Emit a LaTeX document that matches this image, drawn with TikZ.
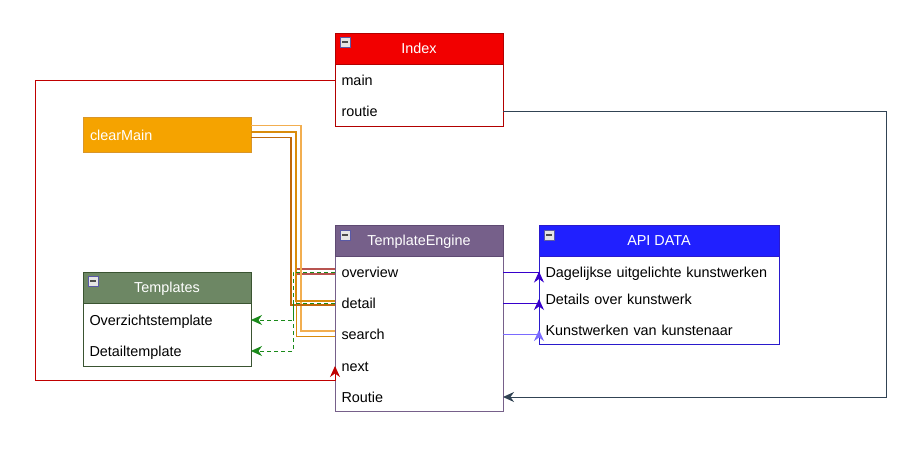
\documentclass[tikz,border=0pt]{standalone}
\usepackage{fontspec}
\setmainfont{Liberation Sans}
\usepackage{xcolor}
\usepackage{tikz}
\usetikzlibrary{positioning,arrows.meta}

\definecolor{indexRed}{HTML}{F20000}
\definecolor{indexLine}{HTML}{B20000}
\definecolor{engineFill}{HTML}{76608A}
\definecolor{engineLine}{HTML}{5E4A72}
\definecolor{apiFill}{HTML}{2020FF}
\definecolor{apiLine}{HTML}{2A1ACC}
\definecolor{templateFill}{HTML}{6D8764}
\definecolor{templateLine}{HTML}{3A5431}
\definecolor{clearFill}{HTML}{F5A300}
\definecolor{clearLine}{HTML}{D9962A}
\definecolor{mainRed}{HTML}{C00000}
\definecolor{routeSlate}{HTML}{314354}
\definecolor{apiBlue}{HTML}{3700CC}
\definecolor{apiLight}{HTML}{7A6AFF}
\definecolor{templateGreen}{HTML}{1A8A1A}
\definecolor{overviewRed}{HTML}{B85450}
\definecolor{paleOrange}{HTML}{F2AE50}
\definecolor{midOrange}{HTML}{D98B0B}
\definecolor{darkOrange}{HTML}{C0680A}

\tikzset{
	% The coloured header of a list box
	list_head/.style={
		rectangle,anchor=north west,minimum width=168pt,minimum height=31pt,
		inner sep=0pt,outer sep=0pt,text=white,text height=10.5pt,text depth=0pt,
		font=\fontsize{14.4}{17}\selectfont
	},
	index_head/.style={list_head,draw=indexLine,fill=indexRed},
	engine_head/.style={list_head,draw=engineLine,fill=engineFill},
	api_head/.style={list_head,draw=apiLine,fill=apiFill,minimum width=240pt},
	template_head/.style={list_head,draw=templateLine,fill=templateFill},
	% The white part below a header
	list_body/.style={
		rectangle,fill=white,minimum width=168pt,inner sep=0pt,outer sep=0pt
	},
	% The entries of a list box
	entry/.style={
		anchor=west,text width=155pt,align=left,inner xsep=6.5pt,inner ysep=0pt,
		outer sep=0pt,text height=13pt,text depth=3pt,
		font=\fontsize{14.4}{17}\selectfont
	},
	api_entry/.style={entry,text width=227pt},
	% The little collapse button in a header
	fold/.style={
		rectangle,draw=gray!70!blue,fill=gray!20,minimum size=10pt,inner sep=0pt,
		path picture={\draw[line width=1.6pt,black!70]
			([xshift=2.2pt]path picture bounding box.west) --
			([xshift=-2.2pt]path picture bounding box.east);}
	},
	% The single orange block
	clear_box/.style={
		rectangle,anchor=north west,draw=clearLine,fill=clearFill,text=white,
		minimum width=168pt,minimum height=35.5pt,text width=154pt,align=left,
		inner xsep=7pt,inner ysep=0pt,outer sep=0pt,text height=10.5pt,text depth=0pt,
		font=\fontsize{14.4}{17}\selectfont
	},
	% The links
	tip/.style={-{Stealth[length=11pt,width=10pt,inset=3.5pt]}},
	main_link/.style={draw=mainRed,line width=1pt,tip},
	route_link/.style={draw=routeSlate,line width=1pt,tip},
	api_link/.style={draw=apiBlue,line width=1pt,tip},
	api_light/.style={draw=apiLight,line width=1pt,tip},
	template_link/.style={draw=templateGreen,line width=1pt,dash pattern=on 4pt off 3pt,tip},
	overview_link/.style={draw=overviewRed,line width=1.2pt,double=white,double distance=3.8pt},
	pale_link/.style={draw=paleOrange,line width=1.2pt},
	orange_link/.style={draw=midOrange,line width=1.5pt},
	dark_link/.style={draw=darkOrange,line width=1.5pt},
}

\begin{document}
\begin{tikzpicture}[x=1pt,y=-1pt]
		\useasboundingbox (0,0) rectangle (916,452);

		% Index
		\node [index_head] (Index) at (335,33) {Index};
		\node [list_body,draw=indexLine,minimum height=62pt,below=0pt of Index] (Index body) {};
		\node [index_head] at (335,33) {Index};
		\node [fold] (Index fold) at ([xshift=10pt,yshift=-9pt]Index.north west) {};
		\node [entry] (Index main) at (335,80.5) {main};
		\node [entry] (Index routie) at (335,111) {routie};

		% clearMain
		\node [clear_box] (Clear main) at (83,117) {clearMain};

		% TemplateEngine
		\node [engine_head] (Engine) at (335,225) {TemplateEngine};
		\node [list_body,draw=engineFill,minimum height=155.5pt,below=0pt of Engine] (Engine body) {};
		\node [engine_head] at (335,225) {TemplateEngine};
		\node [fold] (Engine fold) at ([xshift=10pt,yshift=-10pt]Engine.north west) {};
		\node [entry] (Engine overview) at (335,272) {overview};
		\node [entry] (Engine detail) at (335,303) {detail};
		\node [entry] (Engine search) at (335,334) {search};
		\node [entry] (Engine next) at (335,366) {next};
		\node [entry] (Engine Routie) at (335,397) {Routie};

		% API DATA
		\node [api_head] (API) at (539,225) {API DATA};
		\node [list_body,draw=apiLine,minimum width=240pt,minimum height=88pt,below=0pt of API] (API body) {};
		\node [api_head] at (539,225) {API DATA};
		\node [fold] (API fold) at ([xshift=10pt,yshift=-10pt]API.north west) {};
		\node [api_entry] (API daily) at (539,272) {Dagelijkse uitgelichte kunstwerken};
		\node [api_entry] (API details) at (539,299) {Details over kunstwerk};
		\node [api_entry] (API artists) at (539,330) {Kunstwerken van kunstenaar};

		% Templates
		\node [template_head] (Templates) at (83,272) {Templates};
		\node [list_body,draw=templateLine,minimum height=63pt,below=0pt of Templates] (Templates body) {};
		\node [template_head] at (83,272) {Templates};
		\node [fold] (Templates fold) at ([xshift=10pt,yshift=-9pt]Templates.north west) {};
		\node [entry] (Templates overview) at (83,320) {Overzichtstemplate};
		\node [entry] (Templates detail) at (83,351) {Detailtemplate};

		% Index to the engine
		\draw [main_link] (Index main.west) -| (35,380) -| (Engine next.west);
		\draw [route_link] (Index routie.east) -- ++(383,0) |- (Engine Routie.east);

		% clearMain to the engine
		\coordinate (Overview split) at (296,271.5);
		\draw [overview_link] (Overview split) -- (Overview split -| Engine overview.west);
		\draw [pale_link] ([yshift=9pt]Clear main.east) -- ++(50,0) |- ([yshift=3pt]Engine search.west);
		\draw [orange_link] ([yshift=3pt]Clear main.east) -- ++(45,0) |- ([yshift=2pt]Engine detail.west);
		\draw [orange_link] ([yshift=3pt]Clear main.east) -- ++(45.5,0) |- ([yshift=-2.5pt]Engine search.west);
		\draw [dark_link] ([yshift=-2.5pt]Clear main.east) -- ++(40,0) |- ([yshift=-2pt]Engine detail.west);

		% The engine to the templates
		\draw [template_link] (Engine overview.west) -- ++(-42,0) |- (Templates overview.east);
		\draw [template_link] (Engine detail.west) -- ++(-42,0) |- (Templates detail.east);

		% The engine to the API
		\draw [api_link] (Engine overview.east) -- (Engine overview.east -| API daily.west) -- ([yshift=0.5pt]API daily.west);
		\draw [api_link] (Engine detail.east) -- (Engine detail.east -| API details.west) -- (API details.west);
		\draw [api_light] (Engine search.east) -- (Engine search.east -| API artists.west) -- (API artists.west);
	\end{tikzpicture}
\end{document}
